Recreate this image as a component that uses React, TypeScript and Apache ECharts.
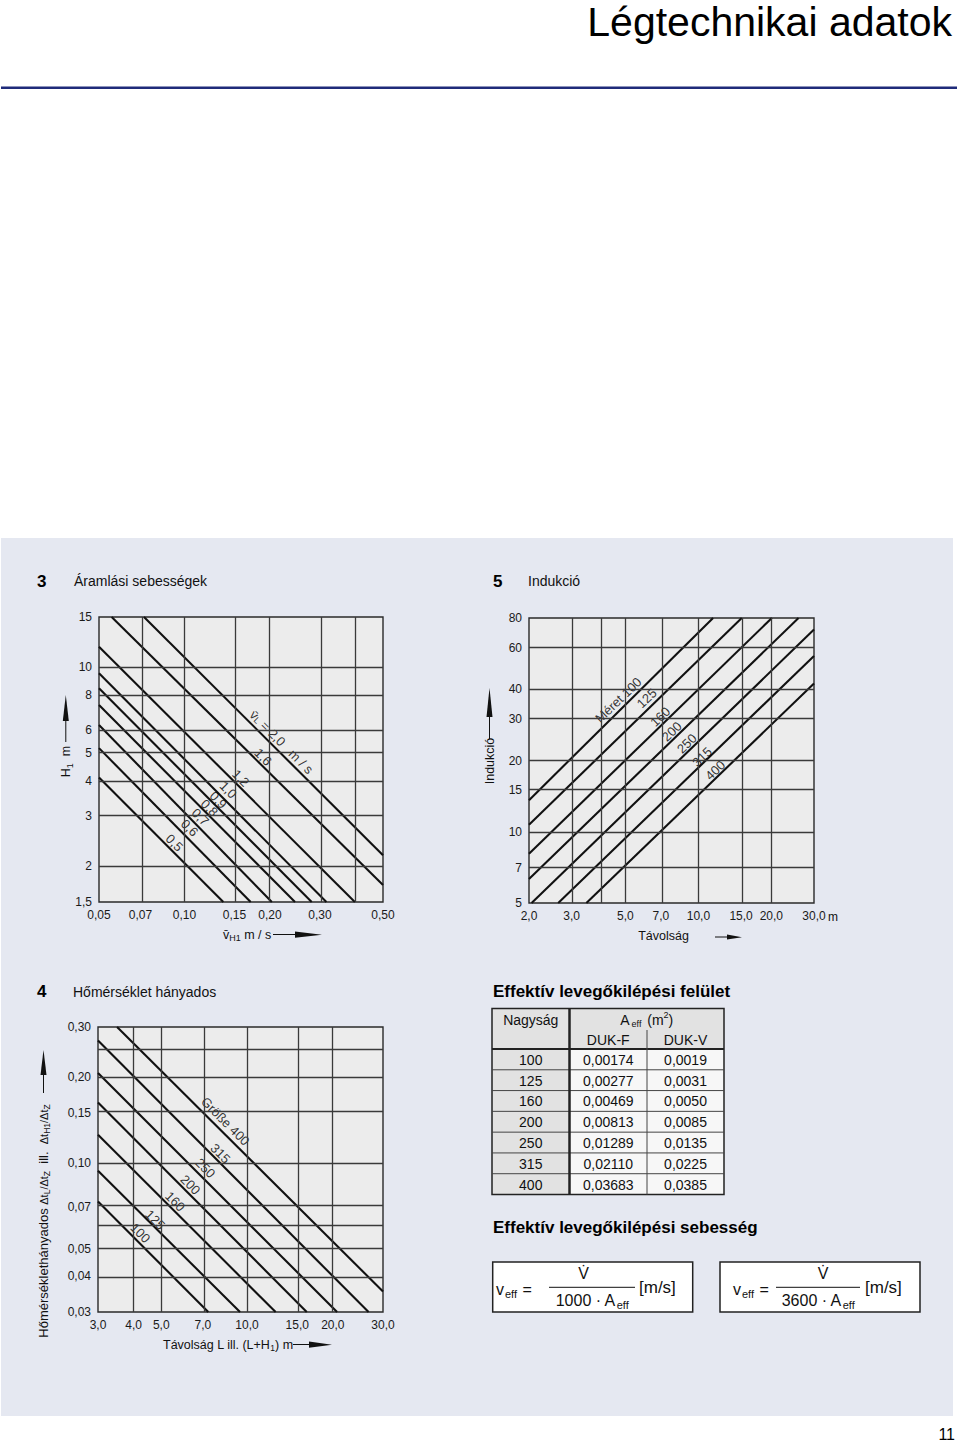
import React, { useEffect, useRef } from "react";
import * as echarts from "echarts";

const FONT = "'Liberation Sans', Arial, Helvetica, sans-serif";
const L = Math.log10;

// ---------- Chart 3: Áramlási sebességek ----------
const velXTicks = [0.05, 0.07, 0.1, 0.15, 0.2, 0.3, 0.5];
const velXTickLabels = ["0,05", "0,07", "0,10", "0,15", "0,20", "0,30", "0,50"];
const velYTicks = [1.5, 2, 3, 4, 5, 6, 8, 10, 15];
const velYTickLabels = ["1,5", "2", "3", "4", "5", "6", "8", "10", "15"];
const velXGrid = [0.07, 0.1, 0.15, 0.2, 0.3, 0.4];
const velYGrid = [2, 3, 4, 5, 6, 8, 10];
const velCurveNames = ["0,5", "0,6", "0,7", "0,8", "0,9", "1,0", "1,2", "1,6", "{a|v\u0304}{s|L}{a| = 2,0   m / s}"];
const velCurveStart = [[0.05, 4.1], [0.05, 5.2], [0.05, 6.27], [0.05, 7.37], [0.05, 8.43], [0.05, 9.53], [0.05, 11.8], [0.0554, 15], [0.072, 15]];
const velCurveEnd = [[0.137, 1.5], [0.171, 1.5], [0.203, 1.5], [0.245, 1.5], [0.2805, 1.5], [0.316, 1.5], [0.398, 1.5], [0.5, 1.72], [0.5, 2.19]];
const velLabelAt = [[0.0911, 2.42], [0.103, 2.73], [0.1125, 2.98], [0.121, 3.21], [0.13, 3.42], [0.141, 3.71], [0.156, 4.08], [0.187, 4.84], [0.217, 5.46]];

// ---------- Chart 5: Indukció ----------
const indXTicks = [2, 3, 5, 7, 10, 15, 20, 30];
const indXTickLabels = ["2,0", "3,0", "5,0", "7,0", "10,0", "15,0", "20,0", "30,0"];
const indYTicks = [5, 7, 10, 15, 20, 30, 40, 60, 80];
const indYTickLabels = ["5", "7", "10", "15", "20", "30", "40", "60", "80"];
const indXGrid = [3, 4, 5, 7, 10, 15, 20];
const indYGrid = [7, 10, 15, 20, 30, 40, 60];
const indCurveNames = ["Méret 100", "125", "160", "200", "250", "315", "400"];
const indCurveStart = [[2, 13.6], [2, 10.7], [2, 8.07], [2, 6.31], [2.05, 5], [2.64, 5], [3.45, 5]];
const indCurveEnd = [[11.5, 80], [15.1, 80], [20.1, 80], [25.9, 80], [30, 71.5], [30, 55.3], [30, 42.3]];
const indLabelAt = [[4.74, 36], [6.2, 36.6], [7.05, 30.6], [7.87, 26.5], [9.08, 23.6], [10.5, 20.7], [11.9, 18.2]];

// ---------- Chart 4: Hőmérséklet hányados ----------
const tempXTicks = [3, 4, 5, 7, 10, 15, 20, 30];
const tempXTickLabels = ["3,0", "4,0", "5,0", "7,0", "10,0", "15,0", "20,0", "30,0"];
const tempYTicks = [0.03, 0.04, 0.05, 0.07, 0.1, 0.15, 0.2, 0.3];
const tempYTickLabels = ["0,03", "0,04", "0,05", "0,07", "0,10", "0,15", "0,20", "0,30"];
const tempXGrid = [4, 5, 7, 10, 15, 20];
const tempYGrid = [0.04, 0.05, 0.06, 0.07, 0.1, 0.15, 0.2, 0.25];
const tempCurveNames = ["100", "125", "160", "200", "250", "315", "Größe 400"];
const tempCurveStart = [[3, 0.0733], [3, 0.0939], [3, 0.1257], [3, 0.163], [3, 0.207], [3, 0.269], [3.5, 0.3]];
const tempCurveEnd = [[7.31, 0.03], [9.45, 0.03], [12.6, 0.03], [16.2, 0.03], [20.7, 0.03], [26.7, 0.03], [30, 0.0354]];
const tempLabelAt = [[4.15, 0.0568], [4.68, 0.0632], [5.5, 0.0733], [6.22, 0.0839], [7.02, 0.096], [7.93, 0.108], [8.25, 0.14]];

// ---------- Table ----------
const tableSizes = ["100", "125", "160", "200", "250", "315", "400"];
const tableDukF = ["0,00174", "0,00277", "0,00469", "0,00813", "0,01289", "0,02110", "0,03683"];
const tableDukV = ["0,0019", "0,0031", "0,0050", "0,0085", "0,0135", "0,0225", "0,0385"];

const GRID_COLOR = "#3a3a3a";
const PLOT_BG = "#ececec";

type PanelCfg = {
  idx: number;
  box: { left: number; top: number; width: number; height: number };
  xRange: [number, number];
  yRange: [number, number];
  xTicks: number[];
  xLabels: string[];
  yTicks: number[];
  yLabels: string[];
  xGrid: number[];
  yGrid: number[];
  names: string[];
  start: number[][];
  end: number[][];
  labelAt: number[][];
  rotate: number;
  labelOffset: number[];
};

function fmt(ticks: number[], labels: string[]) {
  return (v: number) => {
    const i = ticks.findIndex((t) => Math.abs(L(t) - v) < 1e-6);
    return i >= 0 ? labels[i] : "";
  };
}

function makePanel(c: PanelCfg) {
  const grid = {
    left: c.box.left,
    top: c.box.top,
    width: c.box.width,
    height: c.box.height,
    show: true,
    backgroundColor: PLOT_BG,
    borderColor: "#2a2a2a",
    borderWidth: 1.4,
    containLabel: false,
  };
  const axLabel = { fontSize: 12, color: "#1a1a1a", fontFamily: FONT };
  const xAxis = {
    gridIndex: c.idx,
    type: "value",
    min: L(c.xRange[0]),
    max: L(c.xRange[1]),
    axisLine: { show: false },
    axisTick: { show: false },
    splitLine: { show: false },
    axisLabel: { ...axLabel, margin: 7, customValues: c.xTicks.map(L), formatter: fmt(c.xTicks, c.xLabels) },
  };
  const yAxis = {
    gridIndex: c.idx,
    type: "value",
    min: L(c.yRange[0]),
    max: L(c.yRange[1]),
    axisLine: { show: false },
    axisTick: { show: false },
    splitLine: { show: false },
    axisLabel: { ...axLabel, margin: 7, customValues: c.yTicks.map(L), formatter: fmt(c.yTicks, c.yLabels) },
  };
  const series: any[] = [];
  series.push({
    type: "line",
    xAxisIndex: c.idx,
    yAxisIndex: c.idx,
    data: [[L(c.xRange[0]), L(c.yRange[0])]],
    showSymbol: false,
    lineStyle: { opacity: 0 },
    silent: true,
    z: 1,
    markLine: {
      silent: true,
      symbol: ["none", "none"],
      label: { show: false },
      lineStyle: { type: "solid", color: GRID_COLOR, width: 1.3 },
      emphasis: { disabled: true },
      data: [
        ...c.xGrid.map((v) => ({ xAxis: L(v) })),
        ...c.yGrid.map((v) => ({ yAxis: L(v) })),
      ],
    },
  });
  c.names.forEach((n, i) => {
    series.push({
      type: "line",
      name: "c" + c.idx + "_" + i,
      xAxisIndex: c.idx,
      yAxisIndex: c.idx,
      data: [
        [L(c.start[i][0]), L(c.start[i][1])],
        [L(c.end[i][0]), L(c.end[i][1])],
      ],
      showSymbol: false,
      silent: true,
      lineStyle: { color: "#111", width: 2.1 },
      z: 3,
    });
  });
  series.push({
    type: "scatter",
    xAxisIndex: c.idx,
    yAxisIndex: c.idx,
    symbolSize: 0,
    silent: true,
    z: 4,
    data: c.names.map((n, i) => ({ name: n, value: [L(c.labelAt[i][0]), L(c.labelAt[i][1])] })),
    label: {
      show: true,
      position: "inside",
      rotate: c.rotate,
      offset: c.labelOffset,
      formatter: (p: any) => p.name,
      fontSize: 13,
      color: "#000",
      fontFamily: FONT,
      rich: {
        a: { fontSize: 13, color: "#000", fontFamily: FONT },
        s: { fontSize: 9, color: "#000", fontFamily: FONT, verticalAlign: "bottom", lineHeight: 9 },
      },
    },
  });
  return { grid, xAxis, yAxis, series };
}

function txt(x: number, y: number, text: string, opts: any = {}) {
  const { size = 12, weight = "normal", align = "left", rotation = 0, rich, color = "#111", family = FONT } = opts;
  return {
    type: "text",
    x,
    y,
    rotation,
    z: 50,
    silent: true,
    style: {
      text,
      fontSize: size,
      fontWeight: weight,
      fontFamily: family,
      fill: color,
      align,
      textAlign: align,
      verticalAlign: "middle",
      textVerticalAlign: "middle",
      rich,
    },
  };
}
function ln(x1: number, y1: number, x2: number, y2: number, w = 1, color = "#111") {
  return { type: "line", z: 50, silent: true, shape: { x1, y1, x2, y2 }, style: { stroke: color, lineWidth: w } };
}
function poly(points: number[][], color = "#111") {
  return { type: "polygon", z: 50, silent: true, shape: { points }, style: { fill: color } };
}
function rect(x: number, y: number, w: number, h: number, fill: string, stroke?: string, lw = 1, z = 40) {
  return { type: "rect", z, silent: true, shape: { x, y, width: w, height: h }, style: { fill, stroke: stroke || "none", lineWidth: lw } };
}

export default function App() {
  const ref = useRef<HTMLDivElement>(null);
  useEffect(() => {
    if (!ref.current) return;
    const chart = echarts.init(ref.current, undefined, { renderer: "svg" });

    const p3 = makePanel({
      idx: 0,
      box: { left: 99, top: 617, width: 284, height: 285 },
      xRange: [0.05, 0.5],
      yRange: [1.5, 15],
      xTicks: velXTicks,
      xLabels: velXTickLabels,
      yTicks: velYTicks,
      yLabels: velYTickLabels,
      xGrid: velXGrid,
      yGrid: velYGrid,
      names: velCurveNames,
      start: velCurveStart,
      end: velCurveEnd,
      labelAt: velLabelAt,
      rotate: -45,
      labelOffset: [1, -1],
    });
    const p5 = makePanel({
      idx: 1,
      box: { left: 529, top: 618, width: 285, height: 285 },
      xRange: [2, 30],
      yRange: [5, 80],
      xTicks: indXTicks,
      xLabels: indXTickLabels,
      yTicks: indYTicks,
      yLabels: indYTickLabels,
      xGrid: indXGrid,
      yGrid: indYGrid,
      names: indCurveNames,
      start: indCurveStart,
      end: indCurveEnd,
      labelAt: indLabelAt,
      rotate: 44,
      labelOffset: [-1, -1],
    });
    const p4 = makePanel({
      idx: 2,
      box: { left: 98, top: 1027, width: 285, height: 285 },
      xRange: [3, 30],
      yRange: [0.03, 0.3],
      xTicks: tempXTicks,
      xLabels: tempXTickLabels,
      yTicks: tempYTicks,
      yLabels: tempYTickLabels,
      xGrid: tempXGrid,
      yGrid: tempYGrid,
      names: tempCurveNames,
      start: tempCurveStart,
      end: tempCurveEnd,
      labelAt: tempLabelAt,
      rotate: -45,
      labelOffset: [1.5, -1.5],
    });

    const g: any[] = [];
    // page background & panel
    g.push(rect(0, 0, 960, 1442, "#ffffff", undefined, 1, -20));
    g.push(rect(1, 538, 952, 878, "#e5e8f1", undefined, 1, -10));
    // title
    g.push(txt(952, 21.5, "Légtechnikai adatok", { size: 41, align: "right", color: "#000" }));
    g.push(rect(1, 86.5, 956, 2.5, "#1f2b7a", undefined, 1, 50));
    // page number
    g.push(txt(955, 1434, "11", { size: 16, align: "right", color: "#000", family: "'Liberation Sans Narrow', " + FONT }));

    // section headings
    g.push(txt(37, 581, "3", { size: 17, weight: "bold", color: "#000" }));
    g.push(txt(74, 581, "Áramlási sebességek", { size: 14, color: "#111" }));
    g.push(txt(493, 581, "5", { size: 17, weight: "bold", color: "#000" }));
    g.push(txt(528, 581, "Indukció", { size: 14, color: "#111" }));
    g.push(txt(37, 991.5, "4", { size: 17, weight: "bold", color: "#000" }));
    g.push(txt(73, 991.5, "Hőmérséklet hányados", { size: 14, color: "#111" }));

    // Chart 3 axis titles
    g.push(
      txt(66, 761.5, "{a|H}{s|1}{a|  m}", {
        rotation: Math.PI / 2,
        align: "center",
        rich: {
          a: { fontSize: 12.5, fontFamily: FONT, color: "#111", lineHeight: 16 },
          s: { fontSize: 9, fontFamily: FONT, color: "#111", verticalAlign: "bottom", lineHeight: 9 },
        },
      })
    );
    g.push(ln(65.8, 742, 65.8, 718, 1));
    g.push(poly([[65.8, 695], [68.8, 721], [62.8, 721]]));
    g.push(
      txt(223, 934.5, "{a|v\u0304}{s|H1}{a| m / s}", {
        rich: {
          a: { fontSize: 12.5, fontFamily: FONT, color: "#111", lineHeight: 16 },
          s: { fontSize: 9, fontFamily: FONT, color: "#111", verticalAlign: "bottom", lineHeight: 9 },
        },
      })
    );
    g.push(ln(273, 934.5, 300, 934.5, 1));
    g.push(poly([[295, 931.5], [322, 934.8], [295, 937.8]]));

    // Chart 5 axis titles
    g.push(txt(489.5, 761, "Indukció", { size: 12.5, rotation: Math.PI / 2, align: "center" }));
    g.push(ln(489.5, 739, 489.5, 715, 1));
    g.push(poly([[489.5, 688], [492.5, 717], [486.5, 717]]));
    g.push(txt(663.5, 936, "Távolság", { size: 12.5, align: "center" }));
    g.push(ln(715, 937, 732, 937, 1));
    g.push(poly([[727, 934.5], [742, 937.3], [727, 939.5]]));
    g.push(txt(828, 916.7, "m", { size: 12 }));

    // Chart 4 axis titles
    g.push(
      txt(43.5, 1221, "{a|Hőmérséklethányados }{d|Δt}{s|L}{d|/Δt}{s|Z}{a|  ill.  }{d|Δt}{s|H1}{d|/Δt}{s|Z}", {
        rotation: Math.PI / 2,
        align: "center",
        rich: {
          a: { fontSize: 13, fontFamily: FONT, color: "#111", lineHeight: 16 },
          d: { fontSize: 11, fontFamily: FONT, color: "#111", lineHeight: 16 },
          s: { fontSize: 8.5, fontFamily: FONT, color: "#111", verticalAlign: "bottom", lineHeight: 9 },
        },
      })
    );
    g.push(ln(43.5, 1093, 43.5, 1072, 1));
    g.push(poly([[43.5, 1050], [46.5, 1075], [40.5, 1075]]));
    g.push(
      txt(163, 1344.5, "{a|Távolság L ill. (L+H}{s|1}{a|) m}", {
        rich: {
          a: { fontSize: 12.5, fontFamily: FONT, color: "#111", lineHeight: 16 },
          s: { fontSize: 8.5, fontFamily: FONT, color: "#111", verticalAlign: "bottom", lineHeight: 10 },
        },
      })
    );
    g.push(ln(293, 1344.5, 312, 1344.5, 1));
    g.push(poly([[309, 1341.5], [332, 1344.8], [309, 1347.8]]));

    // Table
    g.push(txt(493, 991.5, "Effektív levegőkilépési felület", { size: 17, weight: "bold", color: "#000" }));
    const tl = 492, tr = 724, c1 = 569.5, c2 = 647, tt = 1008.5, th = 1049, tb = 1194.5;
    const rh = (tb - th) / tableSizes.length;
    g.push(rect(tl, tt, tr - tl, th - tt, "#e2e2e2"));
    g.push(rect(tl, th, c1 - tl, tb - th, "#e2e2e2"));
    g.push(rect(c1, th, tr - c1, tb - th, "#f7f7f7"));
    for (let i = 1; i < tableSizes.length; i++) {
      g.push(ln(tl, th + i * rh, tr, th + i * rh, 1, "#444"));
    }
    g.push(ln(tl, th, tr, th, 2, "#222"));
    g.push(ln(c1, tt, c1, tb, 2.5, "#222"));
    g.push(ln(c2, 1030, c2, tb, 1, "#444"));
    g.push(rect(tl, tt, tr - tl, tb - tt, "none", "#222", 1.5, 45));
    g.push(txt((tl + c1) / 2, 1019.5, "Nagyság", { size: 14, align: "center" }));
    g.push(
      txt((c1 + tr) / 2, 1019.5, "{a|A}{s|eff}{a| (m}{p|2}{a|)}", {
        align: "center",
        rich: {
          a: { fontSize: 14, fontFamily: FONT, color: "#111", lineHeight: 18 },
          s: { fontSize: 9, fontFamily: FONT, color: "#111", verticalAlign: "bottom", lineHeight: 9, padding: [0, 2, 0, 2] },
          p: { fontSize: 9, fontFamily: FONT, color: "#111", verticalAlign: "top", lineHeight: 11 },
        },
      })
    );
    g.push(txt((c1 + c2) / 2, 1039.5, "DUK-F", { size: 14, align: "center" }));
    g.push(txt((c2 + tr) / 2, 1039.5, "DUK-V", { size: 14, align: "center" }));
    tableSizes.forEach((s, i) => {
      const cy = th + (i + 0.5) * rh + 0.5;
      g.push(txt((tl + c1) / 2, cy, s, { size: 14, align: "center" }));
      g.push(txt((c1 + c2) / 2, cy, tableDukF[i], { size: 14, align: "center" }));
      g.push(txt((c2 + tr) / 2, cy, tableDukV[i], { size: 14, align: "center" }));
    });

    // Formulas
    g.push(txt(493, 1227.5, "Effektív levegőkilépési sebesség", { size: 17, weight: "bold", color: "#000" }));
    const formulas = [
      { x: 492.7, num: "1000", vx: 496, fx1: 549, fx2: 635, nx: 583.5, bx: 639 },
      { x: 720, num: "3600", vx: 733, fx1: 776, fx2: 860, nx: 823, bx: 865 },
    ];
    formulas.forEach((f) => {
      g.push(rect(f.x, 1262, 200, 50, "#ffffff", "#222", 1.5, 40));
      g.push(
        txt(f.vx, 1289, "{a|v}{s|eff}{a| =}", {
          rich: {
            a: { fontSize: 16, fontFamily: FONT, color: "#111", lineHeight: 20 },
            s: { fontSize: 11, fontFamily: FONT, color: "#111", verticalAlign: "bottom", lineHeight: 12, padding: [0, 1, 0, 1] },
          },
        })
      );
      g.push(txt(f.nx, 1273, "V\u0307", { size: 16, align: "center" }));
      g.push(ln(f.fx1, 1287.3, f.fx2, 1287.3, 1, "#111"));
      g.push(
        txt((f.fx1 + f.fx2) / 2, 1300, "{a|" + f.num + " · A}{s|eff}", {
          align: "center",
          rich: {
            a: { fontSize: 16, fontFamily: FONT, color: "#111", lineHeight: 20 },
            s: { fontSize: 11, fontFamily: FONT, color: "#111", verticalAlign: "bottom", lineHeight: 12, padding: [0, 0, 0, 1] },
          },
        })
      );
      g.push(txt(f.bx, 1287, "[m/s]", { size: 17 }));
    });

    chart.setOption({
      animation: false,
      backgroundColor: "transparent",
      textStyle: { fontFamily: FONT },
      grid: [p3.grid, p5.grid, p4.grid],
      xAxis: [p3.xAxis, p5.xAxis, p4.xAxis],
      yAxis: [p3.yAxis, p5.yAxis, p4.yAxis],
      series: [...p3.series, ...p5.series, ...p4.series],
      graphic: { elements: g },
    });
    return () => chart.dispose();
  }, []);

  return <div ref={ref} style={{ position: "absolute", left: 0, top: 0, width: 960, height: 1442 }} />;
}
